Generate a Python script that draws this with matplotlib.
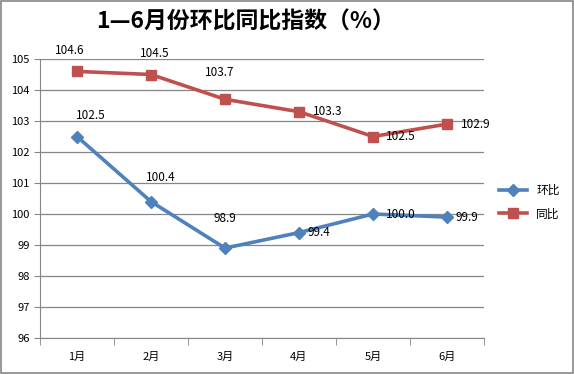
import numpy as np
import matplotlib
matplotlib.use('Agg')
import matplotlib.pyplot as plt
from matplotlib.patches import Rectangle

plt.rcParams['font.family'] = ['Noto Sans CJK SC', 'DejaVu Sans']

# data
months = ['1月', '2月', '3月', '4月', '5月', '6月']
huanbi = [102.5, 100.4, 98.9, 99.4, 100.0, 99.9]
tongbi = [104.6, 104.5, 103.7, 103.3, 102.5, 102.9]
huanbi_labels = ['102.5', '100.4', '98.9', '99.4', '100.0', '99.9']
tongbi_labels = ['104.6', '104.5', '103.7', '103.3', '102.5', '102.9']
yticks = [96, 97, 98, 99, 100, 101, 102, 103, 104, 105]

blue = '#4F81BD'
red = '#C0504D'

fig = plt.figure(figsize=(5.74, 3.74), dpi=100)
ax = fig.add_axes([40/574, 36/374, 444/574, 279/374])

x = np.arange(len(months))
ax.plot(x, huanbi, color=blue, lw=2.6, marker='D', ms=6, label='环比')
ax.plot(x, tongbi, color=red, lw=2.6, marker='s', ms=7, label='同比')

# label offsets in points (dx, dy)
off_h = [(10, 15), (7, 17), (0, 21), (14, 0), (20, 0), (14, 0)]
off_t = [(-5, 15), (3, 15), (-4, 19), (21, 0), (20, 0), (21, 0)]
for i in range(len(months)):
    ax.annotate(huanbi_labels[i], (x[i], huanbi[i]), xytext=off_h[i],
                textcoords='offset points', ha='center', va='center', fontsize=8.5)
    ax.annotate(tongbi_labels[i], (x[i], tongbi[i]), xytext=off_t[i],
                textcoords='offset points', ha='center', va='center', fontsize=8.5)

ax.set_xlim(-0.5, 5.5)
ax.set_ylim(96, 105)
ax.set_yticks(yticks)
ax.set_xticks(x)
ax.set_xticklabels(months)
ax.set_xticks(np.arange(-0.5, 6, 1), minor=True)
ax.tick_params(axis='x', which='major', length=0, pad=10, labelsize=8)
ax.tick_params(axis='x', which='minor', length=5, color='#868686')
ax.tick_params(axis='y', length=4, color='#868686', labelsize=8, direction='out')
ax.grid(axis='y', color='#868686', lw=0.9)
ax.set_axisbelow(True)
for s in ['top', 'right']:
    ax.spines[s].set_visible(False)
for s in ['left', 'bottom']:
    ax.spines[s].set_color('#868686')

fig.legend(loc='center left', bbox_to_anchor=(488/574, 1 - 202/374), frameon=False,
           fontsize=8.5, handlelength=2.4, labelspacing=0.9)

fig.text(246/574, 1 - 22/374, '1—6月份环比同比指数（%）', ha='center', va='center',
         fontsize=16.5, fontweight='bold')

fig.add_artist(Rectangle((0.001, 0.002), 0.997, 0.995, transform=fig.transFigure,
                         fill=False, ec='#868686', lw=1.2))

fig.savefig('out.png', dpi=100)
